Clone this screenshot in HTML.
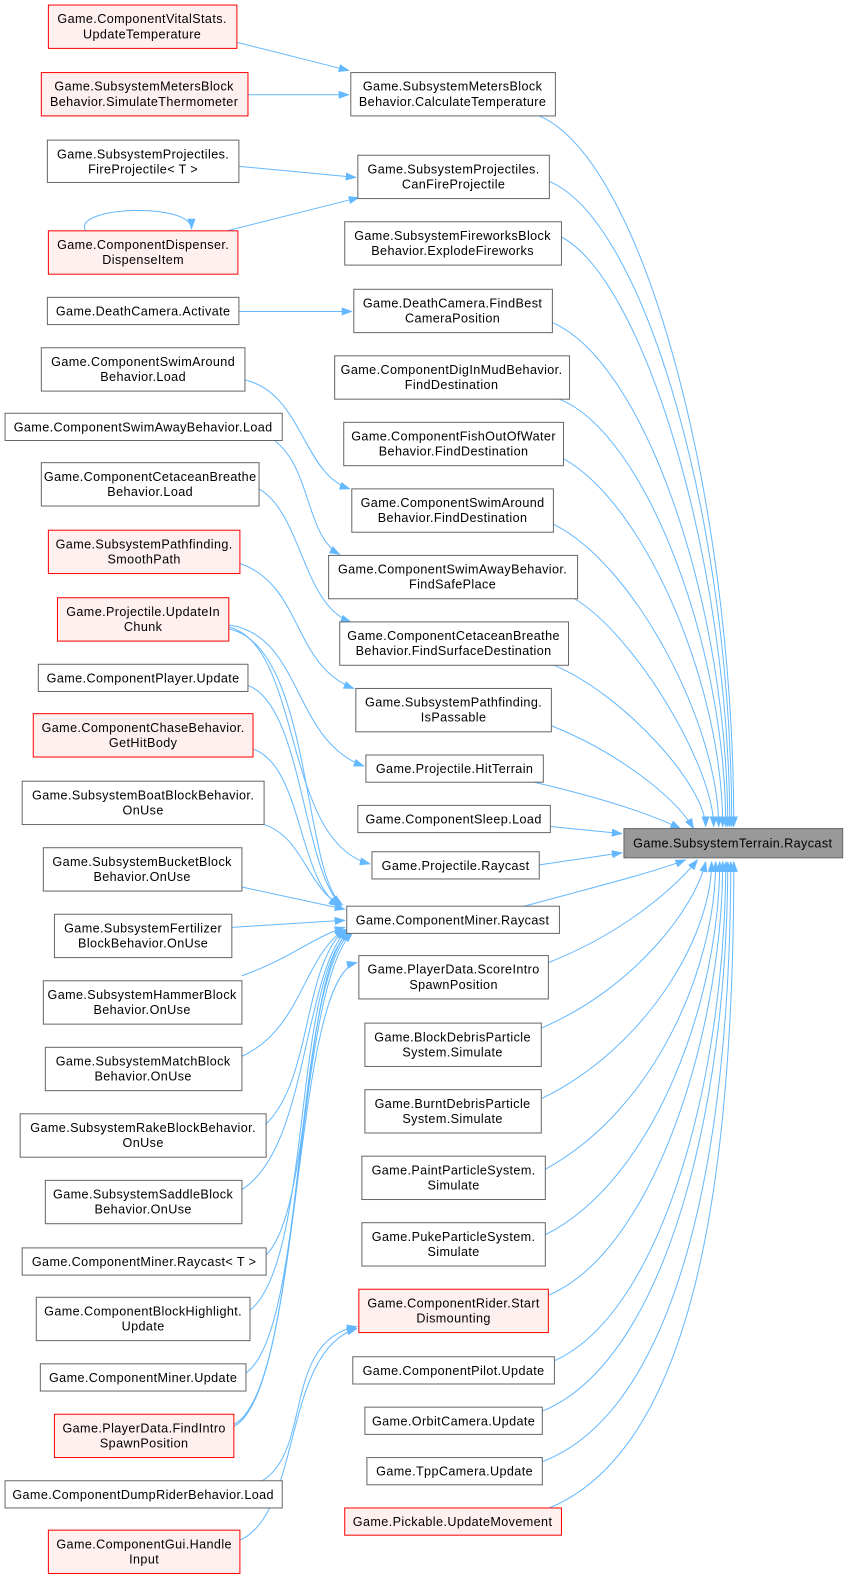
<!DOCTYPE html>
<html><head><meta charset="utf-8"><style>
html,body{margin:0;padding:0;background:#fff;width:850px;height:1581px;overflow:hidden}
svg{display:block}
text{font-family:"Liberation Sans",sans-serif;font-size:12.5px;letter-spacing:0.4px;fill:#000;text-anchor:middle}
.n{fill:#fff;stroke:#666;stroke-width:1}
.r{fill:#fff0f0;stroke:#f00;stroke-width:1}
.t{fill:#999;stroke:#666;stroke-width:1}
.e{fill:none;stroke:#63b8ff;stroke-width:1}
</style></head><body>
<svg width="850" height="1581" viewBox="0 0 850 1581" xmlns="http://www.w3.org/2000/svg">
<defs><marker id="a" markerWidth="11" markerHeight="8" refX="10" refY="4" orient="auto" markerUnits="userSpaceOnUse"><path d="M0,0 L11,4 L0,8 z" fill="#63b8ff"/></marker></defs>
<g transform="scale(1.008)">
<g class="e" marker-end="url(#a)">
<path d="M235,42 L346,70"/>
<path d="M246,94 L346,94"/>
<path d="M237,165 L353,176"/>
<path d="M225,229 L356,196"/>
<path d="M85,229 C70,205 190,200 190,227"/>
<path d="M237,309 L349,309"/>
<path d="M243,377 C300,390 300,470 347,485"/>
<path d="M260,430 C310,450 300,530 337,550"/>
<path d="M257,485 C300,510 300,600 348,617"/>
<path d="M238,559 C300,580 290,660 351,683"/>
<path d="M227,620 C300,630 290,735 361,760"/>
<path d="M227,622 C300,640 280,835 367,857"/>
<path d="M227,624 C310,640 300,870 340,898"/>
<path d="M246,680 C300,700 300,860 338,898"/>
<path d="M251,743 C300,760 295,870 336,899"/>
<path d="M262,818 C300,830 305,880 338,899"/>
<path d="M240,880 L342,902"/>
<path d="M230,920 L342,913"/>
<path d="M240,968 C290,950 310,930 342,920"/>
<path d="M240,1048 C300,1020 300,950 342,922"/>
<path d="M264,1115 C310,1070 300,960 342,922"/>
<path d="M240,1180 C305,1140 300,970 344,922"/>
<path d="M264,1245 C310,1200 300,970 346,923"/>
<path d="M248,1300 C310,1250 290,970 347,924"/>
<path d="M244,1362 C305,1320 290,980 348,924"/>
<path d="M232,1415 C300,1380 290,970 354,955"/>
<path d="M232,1413 C300,1380 290,980 350,925"/>
<path d="M260,1469 C310,1440 280,1330 354,1316"/>
<path d="M238,1528 C300,1500 280,1340 354,1318"/>
</g>
<g class="e" marker-end="url(#a)">
<path d="M535,115 C640,160 728,500 728,820"/>
<path d="M545,180 C640,220 726,520 726,820"/>
<path d="M557,235 C640,280 724,560 724,820"/>
<path d="M548,320 C640,360 722,600 722,820"/>
<path d="M555,396 C640,430 720,640 720,820"/>
<path d="M559,455 C640,500 717,680 717,820"/>
<path d="M549,520 C630,560 713,720 713,820"/>
<path d="M570,594 C630,630 708,760 708,820"/>
<path d="M550,660 C620,690 700,780 700,820"/>
<path d="M547,720 C610,745 670,790 688,822"/>
<path d="M530,776 C590,790 640,805 675,822"/>
<path d="M546,820 L617,827"/>
<path d="M535,858 L617,846"/>
<path d="M520,899 C590,880 650,865 680,853"/>
<path d="M544,955 C620,925 670,880 692,853"/>
<path d="M537,1020 C630,980 690,900 700,855"/>
<path d="M537,1090 C640,1040 706,930 706,855"/>
<path d="M541,1160 C650,1100 710,960 710,855"/>
<path d="M541,1225 C650,1170 714,990 714,855"/>
<path d="M544,1285 C650,1240 717,1020 717,855"/>
<path d="M550,1350 C660,1300 720,1060 720,855"/>
<path d="M538,1400 C660,1350 722,1100 722,855"/>
<path d="M538,1450 C670,1400 725,1150 725,855"/>
<path d="M545,1496 C680,1440 728,1200 728,855"/>
</g>
<rect class="r" x="48" y="5" width="187" height="43"/><text x="141" y="23">Game.ComponentVitalStats.</text><text x="141" y="38">UpdateTemperature</text>
<rect class="r" x="41" y="72" width="205" height="43"/><text x="143" y="90">Game.SubsystemMetersBlock</text><text x="143" y="105">Behavior.SimulateThermometer</text>
<rect class="n" x="47" y="139" width="190" height="42"/><text x="142" y="157">Game.SubsystemProjectiles.</text><text x="142" y="172">FireProjectile&lt; T &gt;</text>
<rect class="r" x="48" y="229" width="188" height="43"/><text x="142" y="247">Game.ComponentDispenser.</text><text x="142" y="262">DispenseItem</text>
<rect class="n" x="47" y="295" width="190" height="27"/><text x="142" y="313">Game.DeathCamera.Activate</text>
<rect class="n" x="41" y="345" width="202" height="43"/><text x="142" y="363">Game.ComponentSwimAround</text><text x="142" y="378">Behavior.Load</text>
<rect class="n" x="5" y="410" width="275" height="27"/><text x="142" y="428">Game.ComponentSwimAwayBehavior.Load</text>
<rect class="n" x="41" y="459" width="216" height="43"/><text x="149" y="477">Game.ComponentCetaceanBreathe</text><text x="149" y="492">Behavior.Load</text>
<rect class="r" x="48" y="526" width="190" height="43"/><text x="143" y="544">Game.SubsystemPathfinding.</text><text x="143" y="559">SmoothPath</text>
<rect class="r" x="57" y="593" width="170" height="43"/><text x="142" y="611">Game.Projectile.UpdateIn</text><text x="142" y="626">Chunk</text>
<rect class="n" x="38" y="659" width="208" height="27"/><text x="142" y="677">Game.ComponentPlayer.Update</text>
<rect class="r" x="33" y="708" width="218" height="43"/><text x="142" y="726">Game.ComponentChaseBehavior.</text><text x="142" y="741">GetHitBody</text>
<rect class="n" x="22" y="775" width="240" height="43"/><text x="142" y="793">Game.SubsystemBoatBlockBehavior.</text><text x="142" y="808">OnUse</text>
<rect class="n" x="43" y="841" width="197" height="43"/><text x="141" y="859">Game.SubsystemBucketBlock</text><text x="141" y="874">Behavior.OnUse</text>
<rect class="n" x="54" y="907" width="176" height="43"/><text x="142" y="925">Game.SubsystemFertilizer</text><text x="142" y="940">BlockBehavior.OnUse</text>
<rect class="n" x="43" y="973" width="197" height="43"/><text x="141" y="991">Game.SubsystemHammerBlock</text><text x="141" y="1006">Behavior.OnUse</text>
<rect class="n" x="45" y="1039" width="195" height="43"/><text x="142" y="1057">Game.SubsystemMatchBlock</text><text x="142" y="1072">Behavior.OnUse</text>
<rect class="n" x="20" y="1105" width="244" height="43"/><text x="142" y="1123">Game.SubsystemRakeBlockBehavior.</text><text x="142" y="1138">OnUse</text>
<rect class="n" x="45" y="1171" width="195" height="43"/><text x="142" y="1189">Game.SubsystemSaddleBlock</text><text x="142" y="1204">Behavior.OnUse</text>
<rect class="n" x="22" y="1238" width="242" height="27"/><text x="143" y="1256">Game.ComponentMiner.Raycast&lt; T &gt;</text>
<rect class="n" x="36" y="1287" width="212" height="43"/><text x="142" y="1305">Game.ComponentBlockHighlight.</text><text x="142" y="1320">Update</text>
<rect class="n" x="40" y="1353" width="204" height="27"/><text x="142" y="1371">Game.ComponentMiner.Update</text>
<rect class="r" x="54" y="1403" width="178" height="43"/><text x="143" y="1421">Game.PlayerData.FindIntro</text><text x="143" y="1436">SpawnPosition</text>
<rect class="n" x="5" y="1469" width="275" height="27"/><text x="142" y="1487">Game.ComponentDumpRiderBehavior.Load</text>
<rect class="r" x="48" y="1518" width="190" height="43"/><text x="143" y="1536">Game.ComponentGui.Handle</text><text x="143" y="1551">Input</text>
<rect class="n" x="348" y="72" width="203" height="43"/><text x="449" y="90">Game.SubsystemMetersBlock</text><text x="449" y="105">Behavior.CalculateTemperature</text>
<rect class="n" x="355" y="154" width="190" height="43"/><text x="450" y="172">Game.SubsystemProjectiles.</text><text x="450" y="187">CanFireProjectile</text>
<rect class="n" x="342" y="220" width="215" height="43"/><text x="449" y="238">Game.SubsystemFireworksBlock</text><text x="449" y="253">Behavior.ExplodeFireworks</text>
<rect class="n" x="351" y="287" width="197" height="43"/><text x="449" y="305">Game.DeathCamera.FindBest</text><text x="449" y="320">CameraPosition</text>
<rect class="n" x="332" y="353" width="233" height="43"/><text x="448" y="371">Game.ComponentDigInMudBehavior.</text><text x="448" y="386">FindDestination</text>
<rect class="n" x="341" y="419" width="218" height="43"/><text x="450" y="437">Game.ComponentFishOutOfWater</text><text x="450" y="452">Behavior.FindDestination</text>
<rect class="n" x="349" y="485" width="200" height="43"/><text x="449" y="503">Game.ComponentSwimAround</text><text x="449" y="518">Behavior.FindDestination</text>
<rect class="n" x="326" y="551" width="247" height="43"/><text x="449" y="569">Game.ComponentSwimAwayBehavior.</text><text x="449" y="584">FindSafePlace</text>
<rect class="n" x="337" y="617" width="227" height="43"/><text x="450" y="635">Game.ComponentCetaceanBreathe</text><text x="450" y="650">Behavior.FindSurfaceDestination</text>
<rect class="n" x="353" y="683" width="194" height="43"/><text x="450" y="701">Game.SubsystemPathfinding.</text><text x="450" y="716">IsPassable</text>
<rect class="n" x="363" y="749" width="176" height="27"/><text x="451" y="767">Game.Projectile.HitTerrain</text>
<rect class="n" x="355" y="799" width="191" height="27"/><text x="450" y="817">Game.ComponentSleep.Load</text>
<rect class="n" x="369" y="845" width="166" height="27"/><text x="452" y="863">Game.Projectile.Raycast</text>
<rect class="n" x="344" y="899" width="211" height="27"/><text x="449" y="917">Game.ComponentMiner.Raycast</text>
<rect class="n" x="356" y="948" width="188" height="43"/><text x="450" y="966">Game.PlayerData.ScoreIntro</text><text x="450" y="981">SpawnPosition</text>
<rect class="n" x="362" y="1015" width="175" height="43"/><text x="449" y="1033">Game.BlockDebrisParticle</text><text x="449" y="1048">System.Simulate</text>
<rect class="n" x="362" y="1081" width="175" height="43"/><text x="449" y="1099">Game.BurntDebrisParticle</text><text x="449" y="1114">System.Simulate</text>
<rect class="n" x="359" y="1147" width="182" height="43"/><text x="450" y="1165">Game.PaintParticleSystem.</text><text x="450" y="1180">Simulate</text>
<rect class="n" x="359" y="1213" width="182" height="43"/><text x="450" y="1231">Game.PukeParticleSystem.</text><text x="450" y="1246">Simulate</text>
<rect class="r" x="356" y="1279" width="188" height="43"/><text x="450" y="1297">Game.ComponentRider.Start</text><text x="450" y="1312">Dismounting</text>
<rect class="n" x="350" y="1346" width="200" height="27"/><text x="450" y="1364">Game.ComponentPilot.Update</text>
<rect class="n" x="362" y="1396" width="176" height="27"/><text x="450" y="1414">Game.OrbitCamera.Update</text>
<rect class="n" x="364" y="1446" width="174" height="27"/><text x="451" y="1464">Game.TppCamera.Update</text>
<rect class="r" x="342" y="1496" width="215" height="27"/><text x="449" y="1514">Game.Pickable.UpdateMovement</text>
<rect class="t" x="619" y="822" width="217" height="29"/><text x="727" y="841">Game.SubsystemTerrain.Raycast</text>
</g>
</svg>
</body></html>
